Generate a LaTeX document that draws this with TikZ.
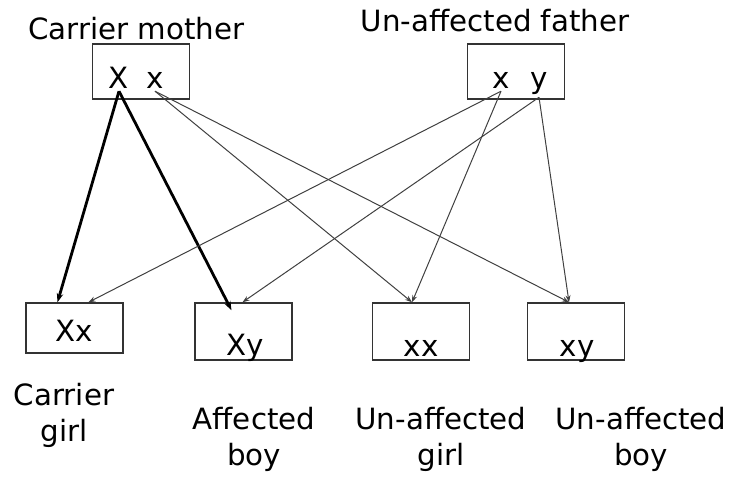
\documentclass[tikz,border=0pt]{standalone}
\usepackage{fontspec}
\setmainfont{DejaVu Sans}
\usepackage{tikz}
\usetikzlibrary{arrows.meta}

\begin{document}
\begin{tikzpicture}[x=1bp, y=-1bp,
  gbox/.style={draw=black!80, line width=1.5bp, minimum width=97bp, inner sep=0pt},
  gtext/.style={font=\fontsize{29.3bp}{36bp}\selectfont, inner sep=2bp},
  xline/.style={->, draw=black!75, line width=1bp, >={Stealth[length=7bp,width=5bp]}},
  bigline/.style={->, line width=2.8bp, >={Stealth[length=9bp,width=6.5bp]}}]
  \useasboundingbox (0,0) rectangle (731,477);

  % Draw mother
  \node[gtext, anchor=base] (momlabel) at (136.5,40) {Carrier mother};
  \node[gbox, minimum height=55bp] (mom) at (141,71.5) {};
  \node[gtext, anchor=base] (momX) at (119,89) {X};
  \node[gtext, anchor=base] (momx) at (155,89) {x};

  % Draw father
  \node[gtext, anchor=base] (dadlabel) at (495,32) {Un-affected father};
  \node[gbox, minimum height=55bp] (dad) at (516,71.5) {};
  \node[gtext, anchor=base] (dadx) at (501,89) {x};
  \node[gtext, anchor=base] (dady) at (539,89) {y};

  % Draw children
  \node[gbox, minimum height=50bp] (Xx) at (74.5,328) {};
  \node[gtext, anchor=base] (Xxtext) at (74.5,341) {Xx};
  \node[gbox, minimum height=57bp] (Xy) at (243.5,331.5) {};
  \node[gtext, anchor=base] (Xytext) at (245.5,355) {Xy};
  \node[gbox, minimum height=57bp] (xx) at (421,331.5) {};
  \node[gtext, anchor=base] (xxtext) at (421,356) {xx};
  \node[gbox, minimum height=57bp] (xy) at (576,331.5) {};
  \node[gtext, anchor=base] (xytext) at (577,356) {xy};

  % Draw child labels
  \node[gtext, align=center] (Xxlabel) at (64,415) {Carrier\\girl};
  \node[gtext, align=center] (Xylabel) at (254,439) {Affected\\boy};
  \node[gtext, align=center] (xxlabel) at (441,439) {Un-affected\\girl};
  \node[gtext, align=center] (xylabel) at (641,439) {Un-affected\\boy};

  % Draw arrows from mother
  \draw[bigline] (momX.south) -- ([xshift=-17bp]Xx.north);
  \draw[bigline] (momX.south) -- ([xshift=-12bp,yshift=-8bp]Xy.north);
  \draw[xline] (momx.south) -- ([xshift=-9bp]xx.north);
  \draw[xline] (momx.south) -- ([xshift=-7bp]xy.north);

  % Draw arrows from father
  \draw[xline] (dadx.south) -- ([xshift=14bp]Xx.north);
  \draw[xline] (dadx.south) -- ([xshift=-9bp]xx.north);
  \draw[xline] (dady.south) -- ([xshift=-1bp]Xy.north);
  \draw[xline] (dady.south) -- ([xshift=-7bp]xy.north);
\end{tikzpicture}
\end{document}
